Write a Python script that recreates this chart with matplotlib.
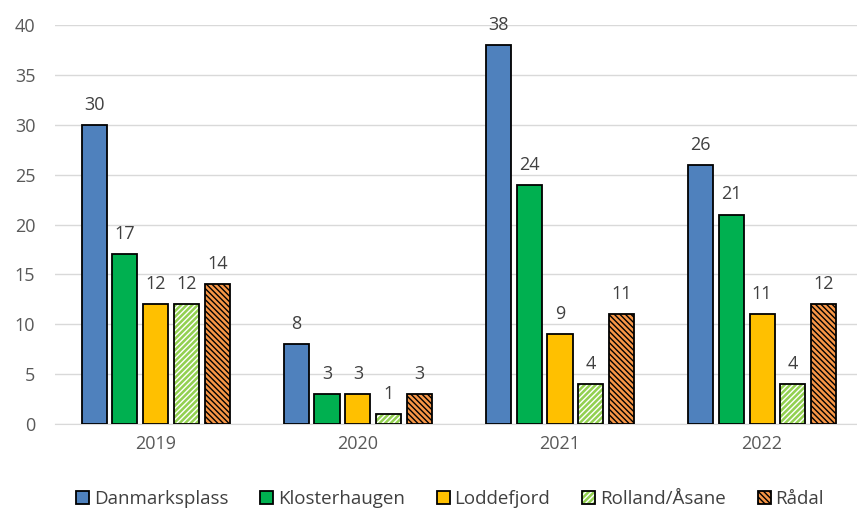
import matplotlib
matplotlib.use("Agg")
import matplotlib.pyplot as plt
import numpy as np
from matplotlib.patches import Patch
from matplotlib.legend_handler import HandlerTuple

years = ["2019", "2020", "2021", "2022"]
series_names = ["Danmarksplass", "Klosterhaugen", "Loddefjord", "Rolland/Åsane", "Rådal"]
danmarksplass = [30, 8, 38, 26]
klosterhaugen = [17, 3, 24, 21]
loddefjord = [12, 3, 9, 11]
rolland = [12, 1, 4, 4]
radal = [14, 3, 11, 12]
yticks = [0, 5, 10, 15, 20, 25, 30, 35, 40]

series = [danmarksplass, klosterhaugen, loddefjord, rolland, radal]
colors = ["#4F81BD", "#00B050", "#FFC000", "#92D050", "#F79646"]
hatches = [None, None, None, "//////", "\\\\\\\\\\\\"]
hatch_colors = [None, None, None, "white", "black"]

plt.rcParams['font.family'] = ['Open Sans', 'DejaVu Sans']
plt.rcParams['hatch.linewidth'] = 1.0

fig = plt.figure(figsize=(8.57, 5.12), dpi=100)
ax = fig.add_axes([0.064, 0.172, 0.936, 0.779])

x = np.arange(len(years))
width = 0.124
pitch = 0.153
handles = []
for i, (vals, c, h, hc, name) in enumerate(zip(series, colors, hatches, hatch_colors, series_names)):
    pos = x + (i - 2) * pitch
    if h:
        ax.bar(pos, vals, width, color=c, hatch=h, edgecolor=hc, linewidth=0, zorder=3)
        ax.bar(pos, vals, width, facecolor="none", edgecolor="black", linewidth=1.3, zorder=4)
        hp = Patch(facecolor=c, hatch=h, edgecolor=hc, linewidth=0)
        ep = Patch(facecolor="none", edgecolor="black", linewidth=1.3)
        handles.append((hp, ep))
    else:
        ax.bar(pos, vals, width, color=c, edgecolor="black", linewidth=1.3, zorder=3)
        handles.append(Patch(facecolor=c, edgecolor="black", linewidth=1.3))
    for p, v in zip(pos, vals):
        ax.annotate(str(v), (p, v), xytext=(0, 8), textcoords="offset points",
                    ha="center", va="bottom", fontsize=13, color="#404040")

ax.set_xlim(-0.5, 3.47)
ax.set_ylim(0, 40)
ax.set_yticks(yticks)
ax.set_xticks(x)
ax.set_xticklabels(years)
ax.tick_params(axis="both", length=0, labelsize=13, colors="#595959")
ax.tick_params(axis="y", pad=14)
ax.tick_params(axis="x", pad=8)
ax.grid(axis="y", color="#D9D9D9", linewidth=1, zorder=0)
for s in ["top", "right", "left"]:
    ax.spines[s].set_visible(False)
ax.spines["bottom"].set_color("#D9D9D9")

leg = fig.legend(handles, series_names, loc="lower center", bbox_to_anchor=(0.525, -0.025),
                 ncol=5, frameon=False, fontsize=13.5, handlelength=0.7, handleheight=0.7,
                 handletextpad=0.25, columnspacing=1.7,
                 handler_map={tuple: HandlerTuple(ndivide=1, pad=0)})
for t in leg.get_texts():
    t.set_color("#404040")

fig.savefig("out.png", dpi=100)
